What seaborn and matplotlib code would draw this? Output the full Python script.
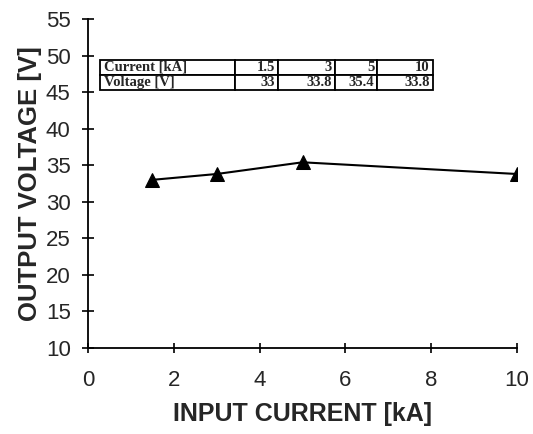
import matplotlib
matplotlib.use("Agg")
import matplotlib.pyplot as plt
import seaborn as sns
import pandas as pd

current_ka = [1.5, 3, 5, 10]
voltage_v = [33, 33.8, 35.4, 33.8]
table_current = ["1.5", "3", "5", "10"]
table_voltage = ["33", "33.8", "35.4", "33.8"]
x_ticks = [0, 2, 4, 6, 8, 10]
y_ticks = [10, 15, 20, 25, 30, 35, 40, 45, 50, 55]

sns.set_theme(style="white")
plt.rcParams["font.family"] = ["Liberation Sans", "DejaVu Sans"]

df = pd.DataFrame({"current": current_ka, "voltage": voltage_v})

fig = plt.figure(figsize=(5.33, 4.34), dpi=100)
ax = fig.add_axes([88/533, 1-348/434, 429/533, 329/434])
sns.lineplot(data=df, x="current", y="voltage", ax=ax, color="black",
             marker="^", markersize=9.5, linewidth=1.5, markeredgecolor="black")

ax.set_xlim(0, 10)
ax.set_ylim(10, 55)
ax.set_xticks(x_ticks)
ax.set_yticks(y_ticks)
ax.set_xticklabels([str(t) for t in x_ticks], fontsize=16)
ax.set_yticklabels([str(t) for t in y_ticks], fontsize=16)
for s in ["top", "right"]:
    ax.spines[s].set_visible(False)
for s in ["left", "bottom"]:
    ax.spines[s].set_color("black")
    ax.spines[s].set_linewidth(1.3)
ax.tick_params(axis="y", left=True, direction="inout", length=9, width=1.2, color="black", pad=8)
ax.tick_params(axis="x", bottom=True, direction="inout", length=7, width=1.2, color="black", pad=12)
ax.set_xlabel("INPUT CURRENT [kA]", fontsize=18, fontweight="bold", labelpad=8)
ax.set_ylabel("OUTPUT VOLTAGE [V]", fontsize=18.5, fontweight="bold", labelpad=3)

cells = [["Current [kA]"] + table_current, ["Voltage [V]"] + table_voltage]
widths = [135, 43, 57, 42, 56]
tot = sum(widths)
tbl = ax.table(cellText=cells, cellLoc="right",
               colWidths=[w / tot * (333/429) for w in widths],
               bbox=[12/429, (348-90)/329, 333/429, 30/329])
tbl.auto_set_font_size(False)
for (r, c), cell in tbl.get_celld().items():
    cell.set_linewidth(1.3)
    cell.set_edgecolor("black")
    cell.PAD = 0.06
    txt = cell.get_text()
    txt.set_fontfamily(["Liberation Serif", "DejaVu Serif"])
    txt.set_fontweight("bold")
    txt.set_fontsize(10.5)
    if c == 0:
        txt.set_horizontalalignment("left")
        cell._loc = "left"
        cell.PAD = 0.03

fig.savefig("out.png", dpi=100)
